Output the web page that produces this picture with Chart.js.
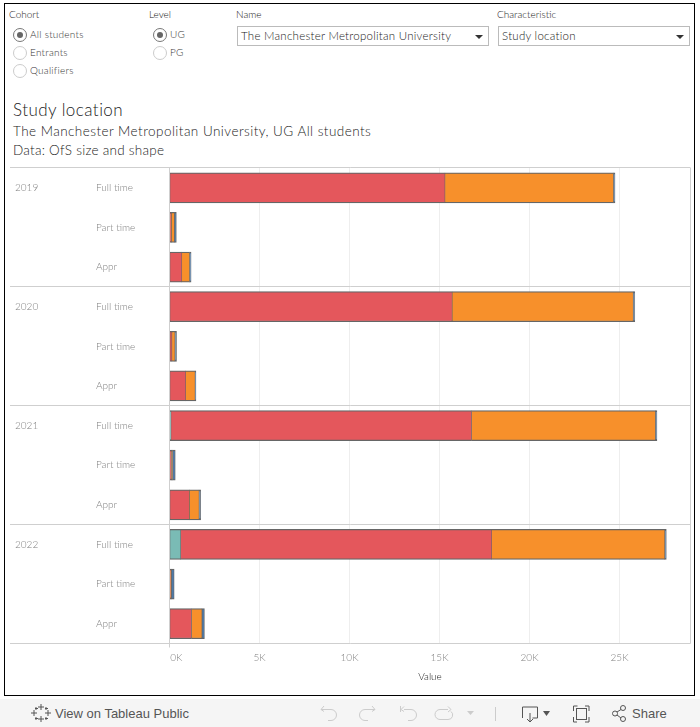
<!DOCTYPE html>
<html>
<head>
<meta charset="utf-8">
<title>Study location</title>
<script src="https://cdn.jsdelivr.net/npm/chart.js@4"></script>
<style>
    html, body { margin: 0; padding: 0; background: #fff; }
    body { width: 700px; height: 727px; position: relative; overflow: hidden; font-family: Lato, "Open Sans", sans-serif; color: #333; font-weight: 300; }
    .frame { position: absolute; left: 4px; top: 3px; width: 689px; height: 691px; border: 1px solid #000; }
    .t { position: absolute; white-space: nowrap; }
    .lbl { font-size: 10px; color: #222; }
    .opt { font-size: 10px; color: #333; letter-spacing: .25px; }
    .radio { position: absolute; width: 12px; height: 12px; border: 1px solid #ccc; border-radius: 50%; box-sizing: content-box; }
    .radio.on { border-color: #777; }
    .radio.on::after { content: ""; position: absolute; left: 3px; top: 3px; width: 6px; height: 6px; border-radius: 50%; background: #666; }
    .select { position: absolute; top: 26px; height: 18px; border: 1px solid #bbb; font-size: 11.5px; line-height: 18px; padding-left: 3px; color: #222; letter-spacing: .25px; box-sizing: content-box; }
    .select::after { content: ""; position: absolute; right: 5px; top: 8px; border-left: 4px solid transparent; border-right: 4px solid transparent; border-top: 4px solid #333; }
    #chart { position: absolute; left: 0; top: 159px; }
    .footer { position: absolute; left: 0; top: 699px; width: 700px; height: 28px; background: #f5f5f5; }
    .footer svg { position: absolute; left: 0; top: 0; }
    .foot-text { position: absolute; top: 7px; font-family: "Liberation Sans", sans-serif; font-weight: 400; font-size: 13px; color: #555; }
</style>
</head>
<body>
<div class="frame"></div>

<div class="t lbl" style="left:9px;top:8px">Cohort</div>
<div class="radio on" style="left:13px;top:28px"></div><div class="t opt" style="left:30px;top:28px">All students</div>
<div class="radio" style="left:13px;top:46px"></div><div class="t opt" style="left:30px;top:46px">Entrants</div>
<div class="radio" style="left:13px;top:64px"></div><div class="t opt" style="left:30px;top:64px">Qualifiers</div>

<div class="t lbl" style="left:149px;top:8px">Level</div>
<div class="radio on" style="left:153px;top:28px"></div><div class="t opt" style="left:170px;top:28px">UG</div>
<div class="radio" style="left:153px;top:46px"></div><div class="t opt" style="left:170px;top:46px">PG</div>

<div class="t lbl" style="left:236px;top:8px">Name</div>
<div class="select" style="left:237px;width:247px">The Manchester Metropolitan University</div>
<div class="t lbl" style="left:497px;top:8px">Characteristic</div>
<div class="select" style="left:498px;width:187px">Study location</div>

<div class="t" style="left:13px;top:99px;font-size:17px;color:#222;letter-spacing:.45px">Study location</div>
<div class="t" style="left:13px;top:123px;font-size:13.5px;color:#222;letter-spacing:.46px">The Manchester Metropolitan University, UG All students</div>
<div class="t" style="left:13px;top:142px;font-size:13.5px;color:#222;letter-spacing:.25px">Data: OfS size and shape</div>

<canvas id="chart" width="700" height="531"></canvas>

<div class="footer">
    <svg width="700" height="28" fill="none" stroke="#999" stroke-width="1">
        <g stroke="#555">
            <path d="M41 5v6M38 8h6M41 17v6M38 20h6M34 11v6M31 14h6M48 11v6M45 14h6M36 8v3M35 9.500h3M46 8v3M45 9.500h3M36 18v3M35 19.500h3M46 18v3M45 19.500h3"/>
        </g>
        <path d="M321 11.500h10a5 5 0 0 1 0 11h-3M324 8l-3 3.500 3 2" transform="translate(0,-1)" stroke="#ccc"/>
        <path d="M375 10.500h-10a5 5 0 0 0 0 11h3M372 7l3 3.500-3 2" stroke="#ccc"/>
        <path d="M400.500 7v6M404 7.500l-3 3 3 2M404 10.500h7a5 5 0 0 1 0 11h-3" stroke="#ccc"/>
        <path d="M448 10.500h-8a5 5 0 0 0 0 10h8a4.500 4.500 0 0 0 3 -8M448 7.500l3 3-3 2.500" stroke="#ccc"/>
        <path d="M467 12h7l-3.500 4z" fill="#ccc" stroke="none"/>
        <path d="M495.500 8v14" stroke="#ccc"/>
        <path d="M522.500 19v-11h15v11h-5M530 14v9M527 20l3 3 3-3" stroke="#555"/>
        <path d="M543 12h7l-3.500 5z" fill="#555" stroke="none"/>
        <path d="M573.500 12v-5h4M585 7h4v5M589 18v5h-4M577 23h-3.500v-5" stroke="#555"/>
        <rect x="576.500" y="9.500" width="10" height="11" stroke="#555"/>
        <g stroke="#555">
            <circle cx="615" cy="14.500" r="2.500"/><circle cx="623" cy="9" r="2.500"/><circle cx="623" cy="20" r="2.500"/>
            <path d="M617 13l4-2.500M617 16l4 3"/>
        </g>
    </svg>
    <div class="foot-text" style="left:55px">View on Tableau Public</div>
    <div class="foot-text" style="left:632px">Share</div>
</div>

<script>
const years = ['2019', '', '', '2020', '', '', '2021', '', '', '2022', '', ''];
const modes = ['Full time', 'Part time', 'Appr', 'Full time', 'Part time', 'Appr', 'Full time', 'Part time', 'Appr', 'Full time', 'Part time', 'Appr'];
const teal = [0, 0, 0, 0, 0, 0, 80, 0, 0, 620, 0, 0];
const red = [15300, 100, 680, 15700, 130, 900, 16700, 100, 1100, 17280, 40, 1220];
const orange = [9360, 170, 430, 10060, 170, 520, 10210, 70, 540, 9610, 60, 580];
const blue = [90, 110, 90, 90, 90, 50, 90, 150, 90, 90, 160, 140];
const xTicks = ['0K', '5K', '10K', '15K', '20K', '25K'];

const lineColor = '#cfcfcf';
const greyText = '#808080';

// horizontal panel rules run under the label columns too, so they are drawn here
const panelLines = {
    id: 'panelLines',
    afterDatasetsDraw(chart) {
        const { ctx, chartArea } = chart;
        const band = chartArea.height / modes.length;
        ctx.save();
        ctx.strokeStyle = lineColor;
        ctx.lineWidth = 1;
        ctx.beginPath();
        for (let index = 0; index <= modes.length; index += 3) {
            const y = Math.round(chartArea.top + index * band) - 0.5;
            ctx.moveTo(10, y);
            ctx.lineTo(chartArea.right, y);
        }
        ctx.moveTo(chartArea.right, chartArea.top);
        ctx.lineTo(chartArea.right, chartArea.bottom);
        ctx.moveTo(chartArea.left, chartArea.top);
        ctx.lineTo(chartArea.left, chartArea.bottom + 4);
        ctx.stroke();
        ctx.restore();
    }
};

function makeDataset(label, values, color, side) {
    return {
        label: label,
        data: values.map(v => (v === 0 ? null : v)),
        backgroundColor: color,
        borderColor: '#666',
        borderWidth: { top: 1.2, bottom: 1.2, left: side, right: side },
        barThickness: 30,
        borderSkipped: false
    };
}

new Chart(document.getElementById('chart'), {
    type: 'bar',
    data: {
        labels: modes,
        datasets: [
            makeDataset('Teal', teal, '#7abbb5', 0.6),
            makeDataset('Red', red, '#e4575c', 0.6),
            makeDataset('Orange', orange, '#f7902b', 0.6),
            makeDataset('Blue', blue, '#4e79a7', 0.8)
        ]
    },
    plugins: [panelLines],
    options: {
        indexAxis: 'y',
        responsive: false,
        animation: false,
        layout: { padding: { left: 15, right: 9.5, top: 2.5, bottom: 0 } },
        plugins: { legend: { display: false }, tooltip: { enabled: false } },
        scales: {
            x: {
                stacked: true,
                min: 0,
                max: 28944,
                afterBuildTicks(axis) {
                    axis.ticks = xTicks.map((t, i) => ({ value: i * 5000 }));
                },
                afterFit(axis) { axis.height = 46.5; },
                border: { display: false },
                grid: { color: '#eeeeee', drawTicks: false },
                ticks: {
                    color: greyText,
                    font: { family: 'Lato', size: 10, weight: '300' },
                    padding: 8,
                    maxRotation: 0,
                    callback: (value, index) => (index === 0 ? '     ' : '') + xTicks[index]
                },
                title: {
                    display: true,
                    text: 'Value',
                    color: '#222',
                    font: { family: 'Lato', size: 10, weight: '300' },
                    padding: { top: 0, bottom: 7 }
                }
            },
            y: {
                stacked: true,
                afterFit(axis) { axis.width = 73.5; },
                border: { display: false },
                grid: { display: false },
                ticks: {
                    color: greyText,
                    font: { family: 'Lato', size: 10, weight: '300' },
                    crossAlign: 'far',
                    autoSkip: false
                }
            },
            yYear: {
                type: 'category',
                labels: years,
                position: 'left',
                offset: true,
                afterFit(axis) { axis.width = 81; },
                border: { display: false },
                grid: { display: false },
                ticks: {
                    color: greyText,
                    font: { family: 'Lato', size: 10, weight: '300' },
                    crossAlign: 'far',
                    autoSkip: false
                }
            }
        }
    }
});
</script>
</body>
</html>
